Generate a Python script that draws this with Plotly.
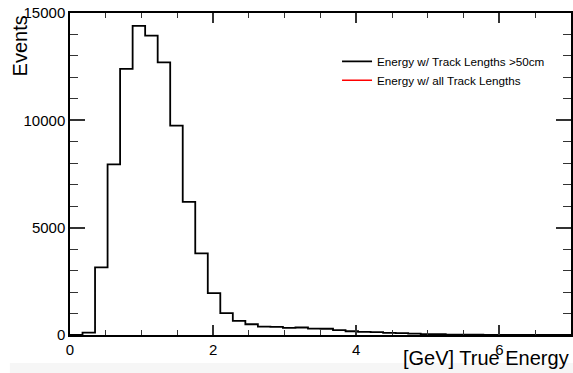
import plotly.graph_objects as go

# Histogram: 40 bins from 0 to 7 GeV (bin width 0.175)
bin_edges = [round(i * 0.175, 3) for i in range(41)]
counts_long_tracks = [0, 110, 3150, 7950, 12400, 14400, 13950, 12700, 9750, 6200,
                      3800, 1950, 1020, 660, 500, 390, 380, 330, 350, 300,
                      290, 230, 175, 145, 135, 95, 85, 60, 40, 35,
                      20, 15, 12, 8, 6, 4, 3, 2, 1, 1]
series_names = ["Energy w/ Track Lengths >50cm", "Energy w/ all Track Lengths"]
series_colors = ["black", "red"]
x_range = [0, 7]
y_range = [0, 15000]

FONT = "Liberation Sans, Arial, Helvetica, sans-serif"

step_x = bin_edges
step_y = counts_long_tracks + [counts_long_tracks[-1]]

fig = go.Figure()
fig.add_trace(go.Scatter(
    x=step_x, y=step_y, mode="lines", line=dict(color=series_colors[0], width=1.8, shape="hv"),
    name=series_names[0], hoverinfo="skip"))
fig.add_trace(go.Scatter(
    x=[None], y=[None], mode="lines", line=dict(color=series_colors[1], width=1.5),
    name=series_names[1], xaxis="x2", yaxis="y2"))

fig.update_layout(
    width=573, height=373,
    margin=dict(l=70, r=1.5, t=13, b=38),
    paper_bgcolor="white", plot_bgcolor="white",
    font=dict(family=FONT, color="black"),
    showlegend=True,
    legend=dict(x=0.533, y=0.895, xanchor="left", yanchor="top",
                bgcolor="rgba(0,0,0,0)", borderwidth=0,
                font=dict(size=11.7, family=FONT), tracegroupgap=0,
                itemwidth=30),
    shapes=[dict(type="rect", xref="paper", yref="paper",
                 x0=-0.12, x1=1.01, y0=-0.087, y1=-0.2,
                 fillcolor="#f6f6f6", line=dict(width=0), layer="below")],
    annotations=[
        dict(text="Events", textangle=-90, xref="paper", yref="paper",
             x=-0.1, y=1.0, xanchor="center", yanchor="top", showarrow=False,
             font=dict(size=20, family=FONT)),
        dict(text="[GeV] True Energy", xref="paper", yref="paper",
             x=1.0, y=-0.03, xanchor="right", yanchor="top", showarrow=False,
             font=dict(size=20, family=FONT)),
    ],
)

x_common = dict(range=x_range, tickmode="linear", tick0=0, dtick=2,
                ticks="inside", ticklen=10, tickwidth=1.5, tickcolor="#333",
                showline=True, linecolor="black", linewidth=1.5, mirror="allticks",
                showgrid=False, zeroline=False,
                minor=dict(dtick=0.5, tick0=0, ticks="inside", ticklen=5, tickwidth=1.2,
                           tickcolor="#333", showgrid=False))
y_common = dict(range=y_range, tickmode="linear", tick0=0, dtick=5000,
                ticks="inside", ticklen=15, tickwidth=1.5, tickcolor="#333",
                showline=True, linecolor="black", linewidth=1.5, mirror="allticks",
                showgrid=False, zeroline=False,
                minor=dict(dtick=1000, tick0=0, ticks="inside", ticklen=8, tickwidth=1.2,
                           tickcolor="#333", showgrid=False))

fig.update_layout(
    xaxis=dict(**x_common, tickformat="d", tickfont=dict(size=15, family=FONT)),
    yaxis=dict(**y_common, tickformat="d", tickfont=dict(size=15, family=FONT)),
    xaxis2=dict(**x_common, overlaying="x", side="top", anchor="y2", showticklabels=False),
    yaxis2=dict(**y_common, overlaying="y", side="right", anchor="x2", showticklabels=False),
)

fig.write_html("out.html", config={"displayModeBar": False},
               post_script="document.body.style.margin='0';")
